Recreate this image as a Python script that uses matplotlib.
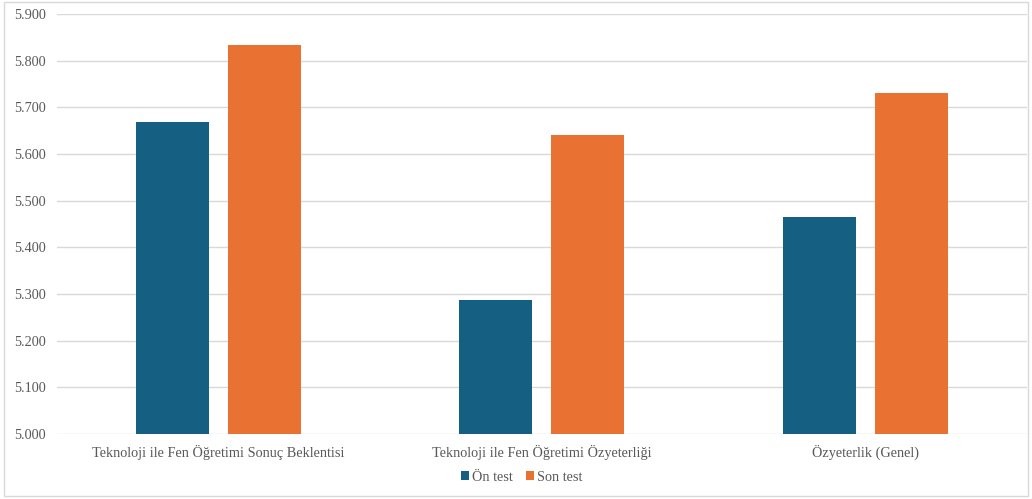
import numpy as np
import matplotlib
matplotlib.use("Agg")
import matplotlib.pyplot as plt
from matplotlib.patches import Rectangle

# data
categories = ["Teknoloji ile Fen Öğretimi Sonuç Beklentisi",
              "Teknoloji ile Fen Öğretimi Özyeterliği",
              "Özyeterlik (Genel)"]
on_test = [5.668, 5.288, 5.466]
son_test = [5.833, 5.640, 5.730]
series_names = ["Ön test", "Son test"]
yticks = [5.0, 5.1, 5.2, 5.3, 5.4, 5.5, 5.6, 5.7, 5.8, 5.9]

plt.rcParams['font.family'] = ['Liberation Serif', 'DejaVu Serif']

fig = plt.figure(figsize=(10.32, 4.99), dpi=100)
ax = fig.add_axes([0.0552, 0.1303, 0.9398, 0.8417])

x = np.arange(len(categories))
w = 0.226
off = 0.1424
ax.bar(x - off, on_test, w, color="#156082", label=series_names[0], zorder=3)
ax.bar(x + off, son_test, w, color="#E97132", label=series_names[1], zorder=3)

ax.set_xlim(-0.5, 2.5)
ax.set_ylim(5.0, 5.9)
ax.set_yticks(yticks)
ax.set_yticklabels([f"{v:.3f}" for v in yticks])
ax.set_xticks(x)
ax.set_xticklabels(categories)
ax.tick_params(axis="both", length=0, labelsize=10.3, labelcolor="#595959")
ax.tick_params(axis="y", pad=8)
ax.tick_params(axis="x", pad=8)
ax.grid(axis="y", color="#D9D9D9", linewidth=1, zorder=0)
for s in ax.spines.values():
    s.set_visible(False)

leg = ax.legend(loc="center", bbox_to_anchor=(0.479, -0.103), ncol=2, frameon=False,
                fontsize=10.3, handlelength=0.6, handleheight=0.6,
                handletextpad=0.2, columnspacing=0.9, borderpad=0)
for t in leg.get_texts():
    t.set_color("#595959")

# light border around the whole chart
fig.patches.append(Rectangle((0.004, 0.006), 0.992, 0.99, transform=fig.transFigure,
                             fill=False, edgecolor="#D9D9D9", linewidth=1))

fig.savefig("out.png", dpi=100)
